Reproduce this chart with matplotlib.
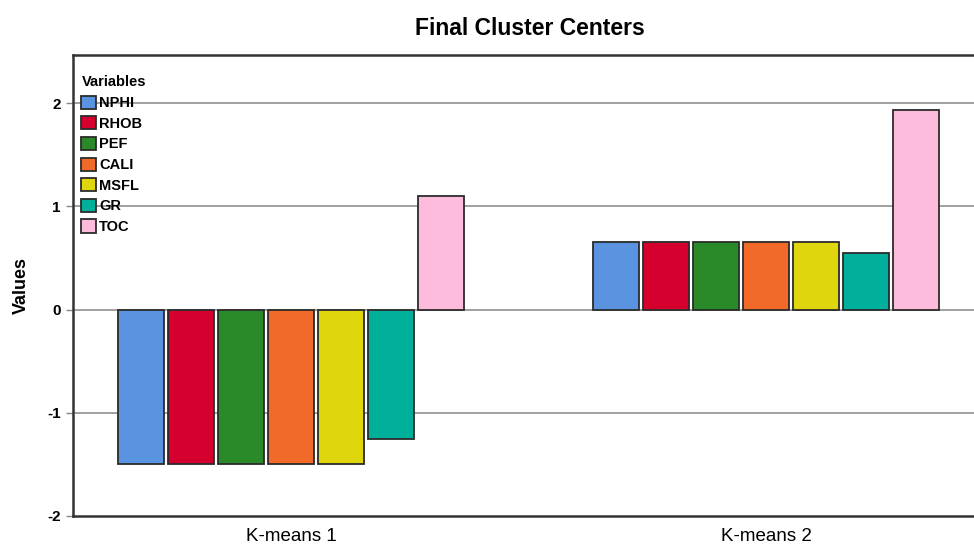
import numpy as np
import matplotlib.pyplot as plt

plt.rcParams['font.family'] = ['Liberation Sans', 'DejaVu Sans']

# 数据
clusters = ['K-means 1', 'K-means 2']
variables = ['NPHI', 'RHOB', 'PEF', 'CALI', 'MSFL', 'GR', 'TOC']
values_k1 = [-1.50, -1.50, -1.50, -1.50, -1.50, -1.25, 1.10]
values_k2 = [0.65, 0.65, 0.65, 0.65, 0.65, 0.55, 1.93]
colors = ['#5a93e0', '#d6002f', '#2a8a2a', '#f26a2a', '#e0d60e', '#00b09a', '#fdbcdc']

values = np.array([values_k1, values_k2])

fig = plt.figure(figsize=(9.74, 5.44), dpi=100)
ax = fig.add_axes([0.075, 0.0515, 0.925, 0.848])

x = np.arange(len(clusters))
step = 0.105
width = 0.097
n = len(variables)
for i, (var, col) in enumerate(zip(variables, colors)):
    offs = (i - (n - 1) / 2) * step
    ax.bar(x + offs, values[:, i], width=width, color=col,
           edgecolor='#2b2b2b', linewidth=1.3, label=var, zorder=3)

ax.set_xlim(-0.459, 1.438)
ax.set_ylim(-2, 2.47)
ax.set_yticks([-2, -1, 0, 1, 2])
ax.set_yticklabels(['-2', '-1', '0', '1', '2'], fontweight='bold', fontsize=11)
ax.set_xticks(x)
ax.set_xticklabels(clusters, fontsize=13.5)
ax.tick_params(axis='x', length=0, pad=9)
ax.tick_params(axis='y', length=5, width=1, color='#888888', pad=4)

for yv in [-1, 0, 1, 2]:
    ax.axhline(yv, color='#999999', linewidth=1.3, zorder=1)

ax.spines['right'].set_visible(False)
for s in ['left', 'top', 'bottom']:
    ax.spines[s].set_linewidth(1.8)
    ax.spines[s].set_color('#333333')

ax.set_ylabel('Values', fontsize=13, fontweight='bold', labelpad=12)
fig.suptitle('Final Cluster Centers', fontsize=16.5, fontweight='bold', x=0.544, y=0.968)

leg = ax.legend(loc='upper left', bbox_to_anchor=(-0.002, 0.977), frameon=False,
                title='Variables', handlelength=1.0, handleheight=1.0,
                handletextpad=0.2, labelspacing=0.42, borderaxespad=0.3,
                prop={'weight': 'bold', 'size': 10.5})
leg.get_title().set_fontweight('bold')
leg.get_title().set_fontsize(10.5)
leg._legend_box.align = 'left'

fig.savefig('out.png', dpi=100)
